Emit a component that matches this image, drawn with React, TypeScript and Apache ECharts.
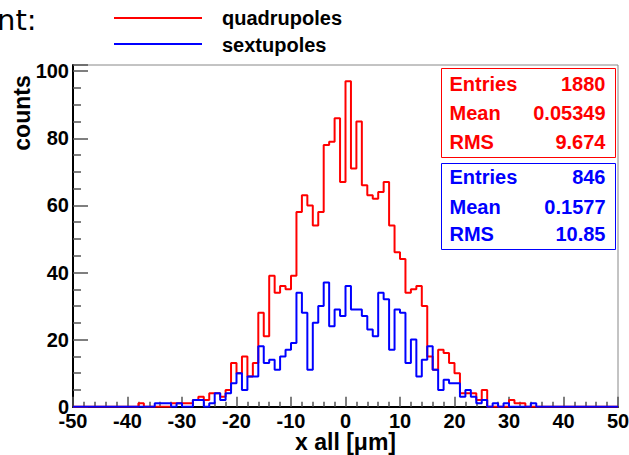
import React, { useEffect, useRef } from "react";
import * as echarts from "echarts";

// Histogram binning: 100 bins of 1 µm from -50 to 50
const binLow = -50;
const binWidth = 1;

// Counts per bin, first entry is the bin [-50, -49)
const quadrupoles = [
  0, 0, 0, 0, 0, 0, 0, 0, 0, 0, 0, 0, 1, 0, 0, 0, 0, 0, 1, 1,
  1, 1, 2, 3, 2, 4, 4, 3, 5, 13, 10, 15, 9, 13, 28, 21, 39, 34, 36, 35,
  39, 58, 63, 60, 54, 58, 78, 79, 86, 67, 97, 71, 85, 66, 63, 62, 64, 67, 54, 46,
  44, 34, 35, 36, 30, 15, 11, 17, 16, 13, 10, 4, 4, 4, 2, 5, 0, 0, 0, 0,
  2, 1, 1, 0, 0, 0, 0, 0, 0, 0, 0, 0, 0, 0, 0, 0, 0, 0, 0, 0,
];

const sextupoles = [
  0, 0, 0, 0, 0, 0, 0, 0, 0, 0, 0, 0, 0, 0, 0, 1, 1, 1, 0, 1,
  0, 0, 2, 2, 0, 1, 4, 2, 4, 7, 10, 5, 9, 9, 18, 13, 14, 11, 15, 17,
  19, 34, 28, 11, 25, 30, 37, 24, 29, 27, 36, 29, 29, 27, 23, 21, 34, 32, 17, 29,
  28, 13, 20, 9, 14, 18, 11, 5, 8, 7, 7, 3, 5, 3, 1, 2, 0, 1, 0, 1,
  0, 0, 0, 0, 1, 0, 0, 0, 0, 0, 0, 0, 0, 0, 0, 0, 0, 0, 0, 0,
];

// Statistics boxes
const quadStats = [
  ["Entries", "1880"],
  ["Mean", "0.05349"],
  ["RMS", "9.674"],
];
const sextStats = [
  ["Entries", "846"],
  ["Mean", "0.1577"],
  ["RMS", "10.85"],
];

const xTicks = { min: -50, max: 50, interval: 10 };
const yTicks = { min: 0, max: 101.85, interval: 20 };

const FONT = "Liberation Sans";

// turn bin contents into stepped outline points (left edge of each bin + final right edge)
function stepPoints(counts: number[]) {
  const pts: number[][] = counts.map((c, i) => [binLow + i * binWidth, c]);
  pts.push([binLow + counts.length * binWidth, counts[counts.length - 1]]);
  return pts;
}

function statsBox(
  rows: string[][],
  color: string,
  left: number,
  top: number,
  width: number,
  height: number,
  rowY: number[]
) {
  const children: any[] = [
    {
      type: "rect",
      shape: { x: left, y: top, width, height },
      style: { fill: "#ffffff", stroke: color, lineWidth: 1 },
    },
  ];
  rows.forEach((r, i) => {
    children.push({
      type: "text",
      x: left + 8,
      y: rowY[i],
      style: {
        text: r[0],
        fill: color,
        fontFamily: FONT,
        fontWeight: "bold",
        fontSize: 20,
        textAlign: "left",
        textVerticalAlign: "middle",
        align: "left",
        verticalAlign: "middle",
      },
    });
    children.push({
      type: "text",
      x: left + width - 10,
      y: rowY[i],
      style: {
        text: r[1],
        fill: color,
        fontFamily: FONT,
        fontWeight: "bold",
        fontSize: 20,
        textAlign: "right",
        textVerticalAlign: "middle",
        align: "right",
        verticalAlign: "middle",
      },
    });
  });
  return { type: "group", children };
}

export default function App() {
  const ref = useRef<HTMLDivElement>(null);

  useEffect(() => {
    if (!ref.current) return;
    const chart = echarts.init(ref.current, undefined, { renderer: "svg" });

    const textStyle = (size: number) => ({
      fontFamily: FONT,
      fontWeight: "bold" as const,
      fontSize: size,
      fill: "#000",
    });

    chart.setOption({
      animation: false,
      backgroundColor: "#ffffff",
      grid: {
        left: 73,
        right: 11,
        top: 65,
        bottom: 48.3,
        containLabel: false,
        outerBoundsMode: "none",
        show: true,
        borderColor: "#888888",
        borderWidth: 1,
        backgroundColor: "transparent",
      },
      xAxis: {
        type: "value",
        min: xTicks.min,
        max: xTicks.max,
        interval: xTicks.interval,
        name: "x all [\u03bcm]",
        nameLocation: "middle",
        nameGap: 24,
        nameMoveOverlap: false,
        nameTextStyle: {
          fontFamily: FONT,
          fontWeight: "bold",
          fontSize: 23,
          color: "#000",
        },
        axisLine: { show: true, onZero: false, lineStyle: { color: "#000", width: 2 } },
        axisTick: { show: true, inside: true, length: 10, lineStyle: { color: "#555", width: 1.5 } },
        minorTick: { show: true, splitNumber: 5, length: 5, lineStyle: { color: "#555", width: 1.5 } },
        splitLine: { show: false },
        axisLabel: {
          margin: 4,
          fontFamily: FONT,
          fontWeight: "bold",
          fontSize: 20,
          color: "#000",
        },
      },
      yAxis: {
        type: "value",
        min: yTicks.min,
        max: yTicks.max,
        interval: yTicks.interval,
        axisLine: { show: true, onZero: false, lineStyle: { color: "#000", width: 2 } },
        axisTick: { show: true, inside: true, length: 15, lineStyle: { color: "#555", width: 1.5 } },
        minorTick: { show: true, splitNumber: 4, length: 8, lineStyle: { color: "#555", width: 1.5 } },
        splitLine: { show: false },
        axisLabel: {
          margin: 4,
          fontFamily: FONT,
          fontWeight: "bold",
          fontSize: 20,
          color: "#000",
          formatter: (v: number) => (v % yTicks.interval === 0 ? String(v) : ""),
        },
      },
      series: [
        {
          name: "quadrupoles",
          type: "line",
          step: "end",
          showSymbol: false,
          symbol: "none",
          data: stepPoints(quadrupoles),
          lineStyle: { color: "#ff0000", width: 2 },
          itemStyle: { color: "#ff0000" },
          z: 3,
        },
        {
          name: "sextupoles",
          type: "line",
          step: "end",
          showSymbol: false,
          symbol: "none",
          data: stepPoints(sextupoles),
          lineStyle: { color: "#0000ff", width: 2 },
          itemStyle: { color: "#0000ff" },
          z: 4,
        },
      ],
      graphic: [
        {
          type: "text",
          x: -3,
          y: 34,
          style: {
            text: "nt:",
            fontFamily: "DejaVu Sans",
            fontSize: 29,
            fill: "#000",
            textVerticalAlign: "bottom",
            verticalAlign: "bottom",
          },
        },
        {
          type: "line",
          shape: { x1: 114, y1: 18, x2: 202, y2: 18 },
          style: { stroke: "#ff0000", lineWidth: 2 },
        },
        {
          type: "text",
          x: 222,
          y: 18,
          style: { ...textStyle(20), text: "quadrupoles", textVerticalAlign: "middle", verticalAlign: "middle" },
        },
        {
          type: "line",
          shape: { x1: 114, y1: 44, x2: 202, y2: 44 },
          style: { stroke: "#0000ff", lineWidth: 2 },
        },
        {
          type: "text",
          x: 222,
          y: 45,
          style: { ...textStyle(20), text: "sextupoles", textVerticalAlign: "middle", verticalAlign: "middle" },
        },
        {
          type: "text",
          x: 22,
          y: 113,
          rotation: Math.PI / 2,
          style: {
            ...textStyle(23),
            text: "counts",
            textAlign: "center",
            align: "center",
            textVerticalAlign: "middle",
            verticalAlign: "middle",
          },
        },
        statsBox(quadStats, "#ff0000", 441.5, 68.5, 174, 89, [84, 113, 142]),
        statsBox(sextStats, "#0000ff", 441.5, 163.5, 174, 86, [177, 206.5, 234]),
      ],
    });

    return () => chart.dispose();
  }, []);

  return (
    <div
      ref={ref}
      style={{ position: "fixed", left: 0, top: 0, width: 629, height: 455, background: "#fff" }}
    />
  );
}
